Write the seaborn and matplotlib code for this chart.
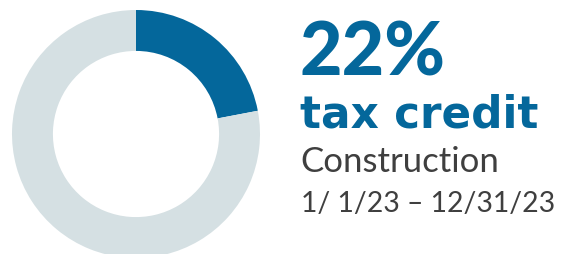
import matplotlib
matplotlib.use("Agg")
import matplotlib.pyplot as plt
import seaborn as sns

# data
labels = ["Tax credit", "Remainder"]
shares = [22, 78]
headline = "22%"
subtitle = "tax credit"
category = "Construction"
period = "1/ 1/23 \u2013 12/31/23"

BLUE = "#04679b"
LIGHT = "#d5e0e3"
GRAY = "#3f3f3f"

sns.set_theme(style="white")
plt.rcParams["font.family"] = ["Lato", "DejaVu Sans"]

W, H = 564, 255
fig = plt.figure(figsize=(W / 100, H / 100), dpi=100)

# donut: centre (136, 135) px from top-left, radius 124 px
cx, cy, r = 136, 135, 124
ax = fig.add_axes([(cx - r) / W, (H - cy - r) / H, 2 * r / W, 2 * r / H])
ax.pie(shares, colors=[BLUE, LIGHT], startangle=90, counterclock=False,
       radius=1, wedgeprops=dict(width=0.33, linewidth=0))
ax.set_xlim(-1, 1)
ax.set_ylim(-1, 1)
ax.set_aspect("equal")
ax.axis("off")


def px(x, y):
    return x / W, 1 - y / H


fig.text(*px(299, 75), headline, color=BLUE, fontsize=53, fontweight="black",
         va="baseline", ha="left")
fig.text(*px(300, 128), subtitle, color=BLUE, fontsize=31.5,
         family=["DejaVu Sans"], fontweight="bold", va="baseline", ha="left")
fig.text(*px(300, 172), category, color=GRAY, fontsize=25, fontweight="normal",
         va="baseline", ha="left")
fig.text(*px(301, 212), period, color=GRAY, fontsize=20.4, fontweight="normal",
         va="baseline", ha="left")

fig.savefig("out.png", dpi=100)
